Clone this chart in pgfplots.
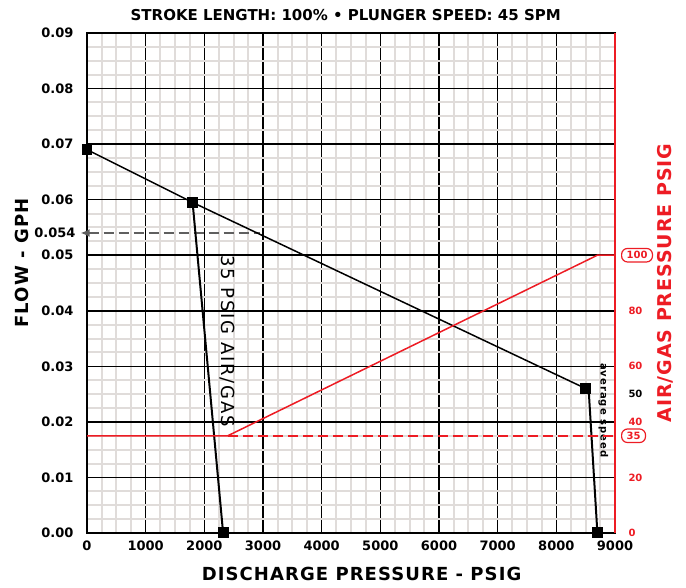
\documentclass[border=0pt]{standalone}
\usepackage{fontspec}
\setmainfont{DejaVu Sans}
\usepackage{pgfplots}
\pgfplotsset{compat=1.18}
\usetikzlibrary{arrows.meta}
\definecolor{gridgray}{RGB}{224,220,218}
\definecolor{redline}{RGB}{237,28,36}
\definecolor{dashgray}{RGB}{95,95,95}

\begin{document}
\begin{tikzpicture}
\begin{axis}[
  name=main,
  scale only axis,
  width=528pt, height=500pt,
  xmin=0, xmax=9000, ymin=0, ymax=0.09,
  clip=false,
  scaled y ticks=false, scaled x ticks=false,
  xtick={0,1000,2000,3000,4000,5000,6000,7000,8000,9000},
  xticklabels={0,1000,2000,3000,4000,5000,6000,7000,8000,9000},
  ytick={0,0.01,0.02,0.03,0.04,0.05,0.06,0.07,0.08,0.09},
  yticklabels={0.00,0.01,0.02,0.03,0.04,0.05,0.06,0.07,0.08,0.09},
  minor xtick={250,500,750,1250,1500,1750,2250,2500,2750,3250,3500,3750,4250,4500,4750,5250,5500,5750,6250,6500,6750,7250,7500,7750,8250,8500,8750},
  minor ytick={0.0025,0.005,0.0075,0.0125,0.015,0.0175,0.0225,0.025,0.0275,0.0325,0.035,0.0375,0.0425,0.045,0.0475,0.0525,0.055,0.0575,0.0625,0.065,0.0675,0.0725,0.075,0.0775,0.0825,0.085,0.0875},
  extra y ticks={0.054},
  extra y tick labels={0.054},
  extra y tick style={grid=none, yticklabel style={xshift=2pt}},
  grid=both,
  major grid style={black, line width=1.6pt},
  minor grid style={gridgray, line width=2pt},
  axis line style={black, line width=2.5pt},
  major tick length=0pt, minor tick length=0pt,
  /pgf/number format/assume math mode=true,
  tick label style={font=\fontsize{13}{13}\selectfont\bfseries},
  xticklabel style={yshift=-4pt},
  yticklabel style={xshift=-10pt},
]
\addplot[dashgray, line width=2pt, dash pattern=on 10pt off 5pt, {Latex[length=9pt,width=8pt]}-]
  coordinates {(-110,0.054) (2950,0.054)};
\addplot[black, line width=1.5pt, mark=square*, mark size=4.5pt]
  coordinates {(0,0.069) (1800,0.0595) (8500,0.026)};
\addplot[black, line width=2pt, mark=square*, mark size=4.5pt, mark indices={2}]
  coordinates {(1800,0.0595) (2320,0)};
\addplot[black, line width=2pt, mark=square*, mark size=4.5pt, mark indices={2}]
  coordinates {(8550,0.026) (8700,0)};

\node[rotate=-90, font=\fontsize{18}{18}\selectfont\addfontfeature{LetterSpace=10}] at (axis cs:2400,0.0345) {35 PSIG AIR/GAS};
\node[rotate=-90, font=\fontsize{10}{10}\selectfont\bfseries\addfontfeature{LetterSpace=10}] at (axis cs:8800,0.0221) {average speed};

\node[font=\fontsize{15}{15}\selectfont\bfseries] at ([yshift=18pt]rel axis cs:0.49,1) {STROKE LENGTH: 100\% \textbullet\ PLUNGER SPEED: 45 SPM};
\node[font=\fontsize{18}{18}\selectfont\bfseries\addfontfeature{LetterSpace=6}] at ([yshift=-41pt]rel axis cs:0.52,0) {DISCHARGE PRESSURE - PSIG};
\node[rotate=90, font=\fontsize{18}{18}\selectfont\bfseries\addfontfeature{LetterSpace=6}] at ([xshift=-65pt]rel axis cs:0,0.54) {FLOW - GPH};
\end{axis}

\begin{axis}[
  scale only axis,
  width=528pt, height=500pt,
  xmin=0, xmax=9000, ymin=0, ymax=180,
  axis x line=none,
  axis y line*=right,
  clip=false,
  axis line style={redline, line width=2.5pt, -},
  major tick length=0pt,
  ytick={0,20,40,50,60,80},
  yticklabels={0,20,40,\textcolor{black}{50},60,80},
  extra y ticks={35,100},
  extra y tick labels={35,100},
  extra y tick style={yticklabel style={draw=redline, line width=1.2pt, rounded corners=6pt, inner xsep=5pt, inner ysep=3pt, xshift=-4pt}},
  /pgf/number format/assume math mode=true,
  yticklabel style={font=\fontsize{10}{10}\selectfont\bfseries, text=redline, xshift=10pt},
]
\addplot[redline, line width=1.5pt] coordinates {(0,35) (2400,35) (8700,100) (9000,100)};
\addplot[redline, line width=1.5pt, dash pattern=on 10pt off 5pt] coordinates {(2400,35) (9000,35)};
\node[rotate=90, text=redline, font=\fontsize{19}{19}\selectfont\bfseries\addfontfeature{LetterSpace=5}] at ([xshift=50pt]rel axis cs:1,0.5) {AIR/GAS PRESSURE PSIG};
\end{axis}

\pgfresetboundingbox
\path ([shift={(-87pt,-55pt)}]main.south west) rectangle ([shift={(71pt,33pt)}]main.north east);
\end{tikzpicture}
\end{document}
